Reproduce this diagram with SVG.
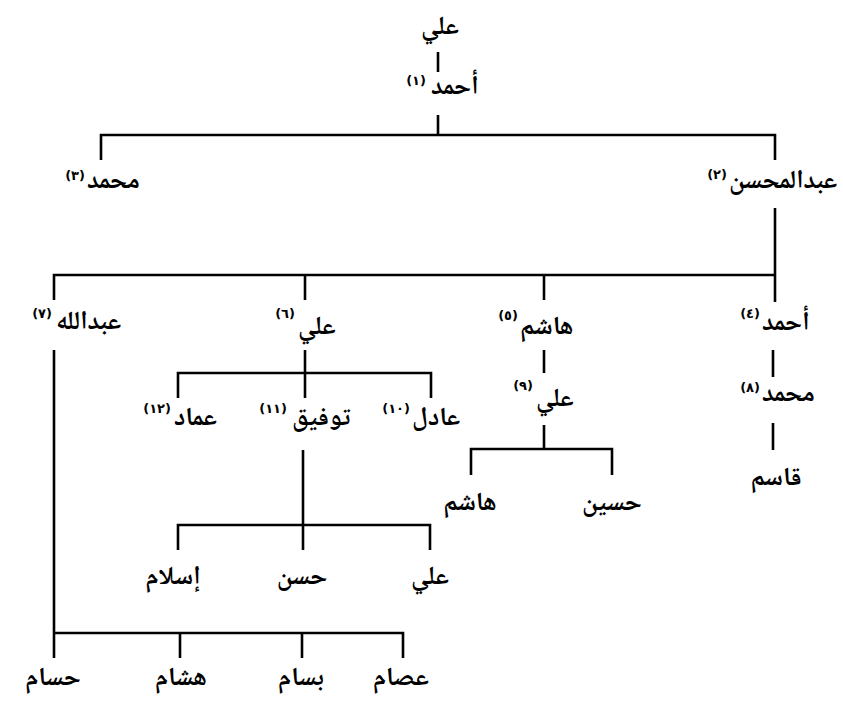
<svg xmlns="http://www.w3.org/2000/svg" width="843" height="701" viewBox="0 0 843 701">
<style>
.n{font-family:"Noto Naskh Arabic","Noto Sans Arabic","DejaVu Sans",sans-serif;font-size:26px;font-weight:bold;fill:#000;text-anchor:middle}
.w{font-family:"Noto Naskh Arabic","Noto Sans Arabic","DejaVu Sans",sans-serif;font-size:26px;font-weight:bold;fill:#000;text-anchor:start}
.s{font-family:"DejaVu Sans",sans-serif;font-size:13px;font-weight:bold;fill:#000;text-anchor:end}
.c{stroke:#000;stroke-width:2.6;fill:none;stroke-linecap:butt}
</style>
<rect width="843" height="701" fill="#fff"/>
<g id="connectors" class="c">
<path d="M438 52V72"/>
<path d="M438 115V135"/>
<path d="M101 160V135H775V160"/>
<path d="M775 208V302"/>
<path d="M54 300V275H775"/>
<path d="M305 275V300"/>
<path d="M544 275V300"/>
<path d="M305 350V398"/>
<path d="M178 398V373H431V398"/>
<path d="M544 350V373"/>
<path d="M773 350V377"/>
<path d="M773 423V450"/>
<path d="M544 425V449"/>
<path d="M471 475V449H612V475"/>
<path d="M303 450V550"/>
<path d="M178 550V525H430V550"/>
<path d="M54 350V658"/>
<path d="M54 633H403V658"/>
<path d="M180 633V658"/>
<path d="M302 633V658"/>
</g>
<g id="n0"><text class="n" x="440" y="34">علي</text></g>
<g id="n1"><text class="w" x="431" y="94">أحمد</text><text class="s" x="426" y="85">(١)</text></g>
<g id="n3"><text class="w" x="87" y="188">محمد</text><text class="s" x="85" y="180">(٣)</text></g>
<g id="n2"><text class="w" x="729" y="188">عبدالمحسن</text><text class="s" x="727" y="179">(٢)</text></g>
<g id="n7"><text class="w" x="56" y="329">عبدالله</text><text class="s" x="52" y="318">(٧)</text></g>
<g id="n6"><text class="w" x="298" y="334">علي</text><text class="s" x="295" y="318">(٦)</text></g>
<g id="n5"><text class="w" x="520" y="334">هاشم</text><text class="s" x="518" y="320">(٥)</text></g>
<g id="n4"><text class="w" x="762" y="330">أحمد</text><text class="s" x="760" y="318">(٤)</text></g>
<g id="n8"><text class="w" x="762" y="401">محمد</text><text class="s" x="760" y="392">(٨)</text></g>
<g id="n9"><text class="w" x="536" y="406">علي</text><text class="s" x="533" y="390">(٩)</text></g>
<g id="n10"><text class="w" x="412" y="425">عادل</text><text class="s" x="410" y="413">(١٠)</text></g>
<g id="n11"><text class="w" x="292" y="425">توفيق</text><text class="s" x="287" y="413">(١١)</text></g>
<g id="n12"><text class="w" x="174" y="425">عماد</text><text class="s" x="171" y="413">(١٢)</text></g>
<g id="qasim"><text class="n" x="776" y="485">قاسم</text></g>
<g id="hashim2"><text class="n" x="470" y="510">هاشم</text></g>
<g id="husain"><text class="n" x="612" y="510">حسين</text></g>
<g id="islam"><text class="n" x="173" y="584">إسلام</text></g>
<g id="hasan"><text class="n" x="302" y="584">حسن</text></g>
<g id="ali3"><text class="n" x="430" y="584">علي</text></g>
<g id="husam"><text class="n" x="53" y="685">حسام</text></g>
<g id="hisham"><text class="n" x="181" y="685">هشام</text></g>
<g id="bassam"><text class="n" x="301" y="685">بسام</text></g>
<g id="isam"><text class="n" x="401" y="685">عصام</text></g>
</svg>
